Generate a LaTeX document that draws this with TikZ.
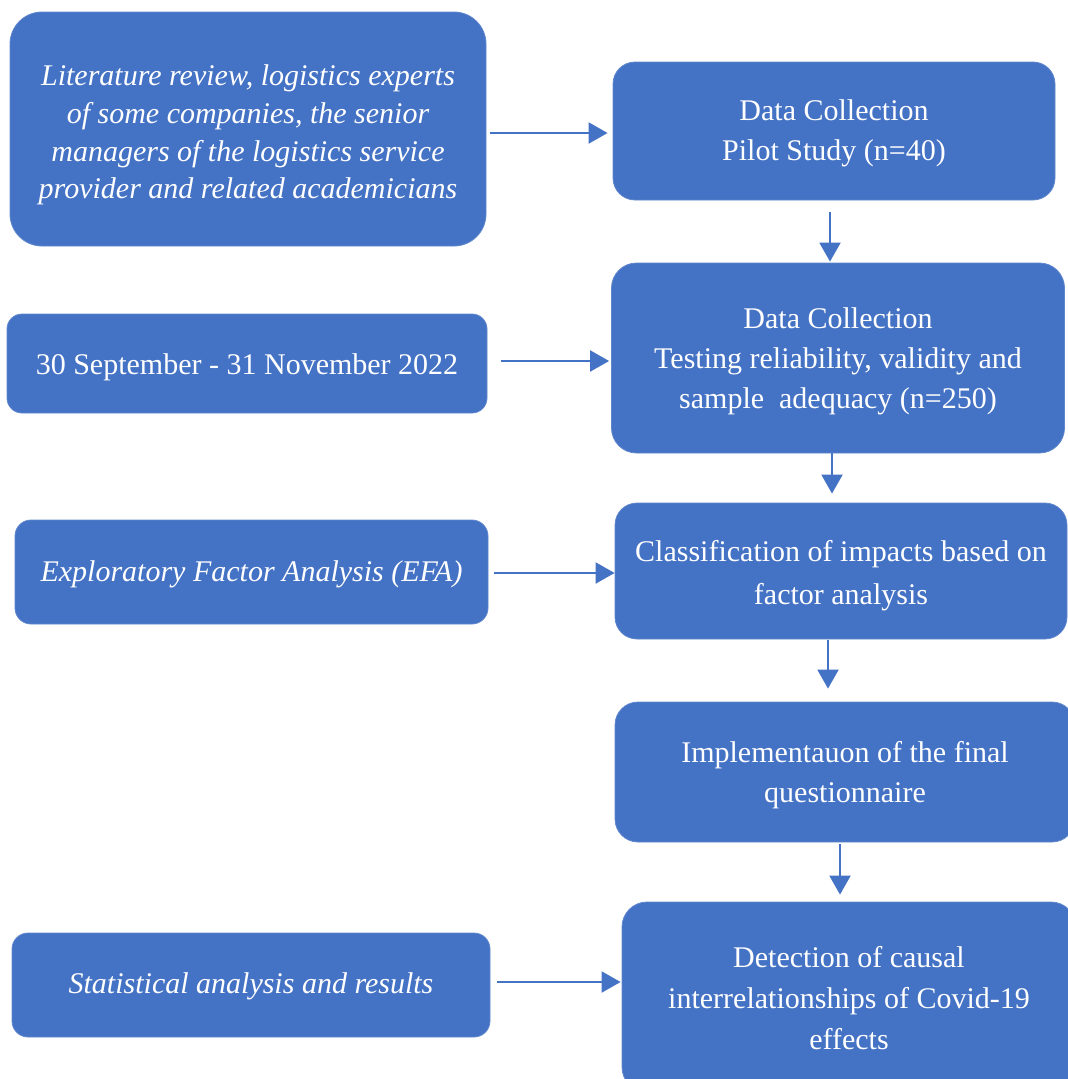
\documentclass[tikz,border=0pt]{standalone}
\usepackage{fontspec}
\setmainfont{Liberation Serif}
\usetikzlibrary{arrows.meta}
\definecolor{boxblue}{HTML}{4472C4}
\begin{document}
\begin{tikzpicture}[x=1pt,y=-1pt,
  box/.style={fill=boxblue,draw=boxblue!85!white,line width=0.8pt,inner sep=0pt},
  txt/.style={text=white,align=center,inner sep=0pt,font=\fontsize{30}{40}\selectfont},
  itxt/.style={txt,font=\fontsize{30}{37.6}\selectfont\itshape},
  arr/.style={draw=boxblue,line width=2pt,-{Triangle[length=19pt,width=21pt]}}]
\useasboundingbox (0,0) rectangle (1068,1079);

% left column boxes
\node[box,minimum width=476,minimum height=234,rounded corners=32] (lit) at (248,129) {};
\node[box,minimum width=480,minimum height=99,rounded corners=15] (date) at (247,363.5) {};
\node[box,minimum width=473,minimum height=104,rounded corners=16] (efa) at (251.5,572) {};
\node[box,minimum width=478,minimum height=104,rounded corners=16] (stat) at (251,985) {};

% right column boxes
\node[box,minimum width=442,minimum height=138,rounded corners=22] (pilot) at (834,131) {};
\node[box,minimum width=453,minimum height=190,rounded corners=25] (test) at (838,358) {};
\node[box,minimum width=452,minimum height=136,rounded corners=22] (cls) at (841,571) {};
\node[box,minimum width=460,minimum height=140,rounded corners=23] (impl) at (845,772) {};
\node[box,minimum width=454,minimum height=190,rounded corners=25] (det) at (849,997) {};

% box texts
\node[itxt] (lit-t) at ([yshift=-6pt]lit.center)
  {Literature review, logistics experts\\ of some companies, the senior\\ managers of the logistics service\\ provider and related academicians};
\node[txt] (date-t) at ([yshift=-4pt]date.center) {30 September - 31 November 2022};
\node[itxt] (efa-t) at ([yshift=-2pt]efa.center) {Exploratory Factor Analysis (EFA)};
\node[itxt] (stat-t) at ([yshift=-1pt]stat.center) {Statistical analysis and results};
\node[txt] (pilot-t) at ([yshift=-2pt]pilot.center) {Data Collection\\ Pilot Study (n=40)};
\node[txt] (test-t) at ([yshift=-3pt]test.center)
  {Data Collection\\ Testing reliability, validity and\\ sample\ \ adequacy (n=250)};
\node[txt,font=\fontsize{30}{43}\selectfont] (cls-t) at ([yshift=-5pt]cls.center)
  {Classification of impacts based on\\ factor analysis};
\node[txt] (impl-t) at ([yshift=-3pt]impl.center) {Implementauon of the final\\ questionnaire};
\node[txt,font=\fontsize{30}{41}\selectfont] (det-t) at ([yshift=-1pt]det.center)
  {Detection of causal\\ interrelationships of Covid-19\\ effects};

% horizontal connectors
\draw[arr,shorten <=4pt,shorten >=5pt] (lit.east |- 0,133) -- (pilot.west |- 0,133);
\draw[arr,shorten <=14pt,shorten >=2pt] (date.east |- 0,361) -- (test.west |- 0,361);
\draw[arr,shorten <=6pt,shorten >=0pt] (efa.east |- 0,573) -- (cls.west |- 0,573);
\draw[arr,shorten <=7pt,shorten >=1pt] (stat.east |- 0,982) -- (det.west |- 0,982);

% vertical connectors
\draw[arr,shorten <=12pt,shorten >=1pt] (830,0 |- pilot.south) -- (830,0 |- test.north);
\draw[arr,shorten <=0pt,shorten >=9pt] (832,0 |- test.south) -- (832,0 |- cls.north);
\draw[arr,shorten <=1pt,shorten >=13pt] (828,0 |- cls.south) -- (828,0 |- impl.north);
\draw[arr,shorten <=2pt,shorten >=7pt] (840,0 |- impl.south) -- (840,0 |- det.north);
\end{tikzpicture}
\end{document}
